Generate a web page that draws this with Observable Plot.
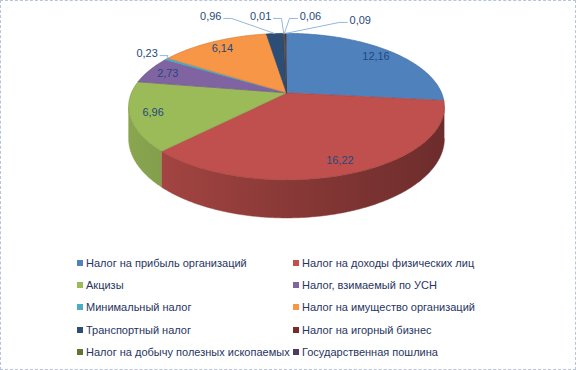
<!DOCTYPE html>
<html><head><meta charset="utf-8">
<script src="https://cdn.jsdelivr.net/npm/d3@7"></script>
<script src="https://cdn.jsdelivr.net/npm/@observablehq/plot@0.6"></script>
<style>
html,body{margin:0;padding:0;background:#fff;}
#chart{position:relative;width:576px;height:370px;box-sizing:border-box;border:1px dashed #b8c4de;overflow:hidden;font-family:"Liberation Sans",Arial,sans-serif;background:#fff;}
#chart svg{position:absolute;left:-1px;top:-1px;}
.leg{position:absolute;font-size:11px;color:#28355f;white-space:nowrap;line-height:12px;}
.leg i{display:inline-block;width:6px;height:6px;margin-right:3px;vertical-align:1px;}
</style></head><body><div id="chart"></div>
<script>
const categories = [
  "Налог на прибыль организаций",
  "Налог на доходы физических лиц",
  "Акцизы",
  "Налог, взимаемый по УСН",
  "Минимальный налог",
  "Налог на имущество организаций",
  "Транспортный налог",
  "Налог на игорный бизнес",
  "Налог на добычу полезных ископаемых",
  "Государственная пошлина"
];
const values = [12.16, 16.22, 6.96, 2.73, 0.23, 6.14, 0.96, 0.01, 0.06, 0.09];
const colors = ["#4F81BD","#C0504D","#9BBB59","#8064A2","#4BACC6","#F79646","#2C4D75","#772C2A","#5F7530","#4D3B62"];

// perspective layout (pixels)
const CX = 287, A = 155.6, CY = 92.7, B = 70.9, K = 0.188, D = 31;
const proj = (r, t) => {
  const w = 1 + K * r * Math.cos(t);
  return {x: r * Math.sin(t) / w, y: r * Math.cos(t) / w};
};
const dropU = t => (D / B) / (1 + K * Math.cos(t));
const toX = px => (px - CX) / A;
const toY = py => (CY - py) / B;

const arcs = d3.pie().sort(null).startAngle(0).endAngle(2 * Math.PI)(values);
const fmt = v => v.toFixed(2).replace(".", ",");

const tops = [], sides = [];
const sLo = Math.acos(-K), sHi = 2 * Math.PI - Math.acos(-K);
arcs.forEach((a, i) => {
  const c = colors[i];
  tops.push({id: i, x: 0, y: 0, color: c});
  const n = Math.max(2, Math.ceil((a.endAngle - a.startAngle) / 0.01));
  for (let k = 0; k <= n; k++) {
    const t = a.startAngle + (a.endAngle - a.startAngle) * k / n;
    tops.push({id: i, ...proj(1, t), color: c});
  }
  const s0 = Math.max(a.startAngle, sLo), s1 = Math.min(a.endAngle, sHi);
  if (s1 > s0) {
    const g = `url(#side${i})`;
    const m = Math.max(2, Math.ceil((s1 - s0) / 0.01));
    for (let k = 0; k <= m; k++) {
      const t = s0 + (s1 - s0) * k / m;
      sides.push({id: i, ...proj(1, t), color: g});
    }
    for (let k = m; k >= 0; k--) {
      const t = s0 + (s1 - s0) * k / m;
      const p = proj(1, t);
      sides.push({id: i, x: p.x, y: p.y - dropU(t), color: g});
    }
  }
});

// labels
const inner = [], outer = [], leaders = [];
const topRow = arcs.map((a, i) => i).filter(i => values[i] < 1 && (arcs[i].startAngle + arcs[i].endAngle) / 2 > 5.9);
arcs.forEach((a, i) => {
  const mid = (a.startAngle + a.endAngle) / 2;
  const lab = fmt(values[i]);
  if (values[i] >= 1) {
    inner.push({...proj(0.86, mid), label: lab});
  } else {
    const an = proj(1, mid);
    let l;
    const k = topRow.indexOf(i);
    if (k >= 0) {
      l = {x: toX(CX - 76 + k * 50), y: toY(16 + (k === 3 ? 4 : 0))};
    } else {
      l = proj(1.18, mid);
    }
    outer.push({...l, label: lab});
    const hw = 13 / A, run = 8 / A;
    const dir = l.x < an.x ? 1 : -1;
    const yy = l.y - 2 / B;
    leaders.push({id: i, x: l.x + dir * hw, y: yy});
    leaders.push({id: i, x: l.x + dir * (hw + run), y: yy});
    leaders.push({id: i, x: an.x, y: an.y});
  }
});

const defs = () => {
  const ns = "http://www.w3.org/2000/svg";
  const d = document.createElementNS(ns, "defs");
  colors.forEach((c, i) => {
    const g = document.createElementNS(ns, "linearGradient");
    g.setAttribute("id", `side${i}`);
    g.setAttribute("gradientUnits", "userSpaceOnUse");
    g.setAttribute("x1", CX - A); g.setAttribute("x2", CX + A);
    g.setAttribute("y1", 0); g.setAttribute("y2", 0);
    [[0, 0.35], [0.5, 0.95], [1, 1.6]].forEach(([o, dk]) => {
      const s = document.createElementNS(ns, "stop");
      s.setAttribute("offset", o);
      s.setAttribute("stop-color", d3.color(c).darker(dk).formatHex());
      g.appendChild(s);
    });
    d.appendChild(g);
  });
  return d;
};

const plot = Plot.plot({
  width: 576, height: 240,
  margin: 0,
  x: {type: "linear", domain: [-1, 1], range: [CX - A, CX + A], axis: null},
  y: {type: "linear", domain: [-1, 1], range: [CY + B, CY - B], axis: null},
  color: {type: "identity"},
  marks: [
    defs,
    Plot.line(sides, {x: "x", y: "y", z: "id", fill: "color", stroke: "color", strokeWidth: 0.5}),
    Plot.line(tops, {x: "x", y: "y", z: "id", fill: "color", stroke: d => d3.color(d.color).darker(0.5).formatHex(), strokeWidth: 0.7}),
    Plot.line(leaders, {x: "x", y: "y", z: "id", stroke: "#93b7e0", strokeWidth: 1}),
    Plot.text(inner, {x: "x", y: "y", text: "label", fill: "#1F497D", fontSize: 11, fontFamily: "Liberation Sans, Arial, sans-serif"}),
    Plot.text(outer, {x: "x", y: "y", text: "label", fill: "#1F497D", fontSize: 11, fontFamily: "Liberation Sans, Arial, sans-serif"})
  ]
});
const chart = document.getElementById("chart");
chart.appendChild(plot);

categories.forEach((c, i) => {
  const col = i % 2, row = Math.floor(i / 2);
  const d = document.createElement("div");
  d.className = "leg";
  d.style.left = (col === 0 ? 76 : 292) + "px";
  d.style.top = (256 + row * 22.2) + "px";
  d.innerHTML = `<i style="background:${colors[i]}"></i>${c}`;
  chart.appendChild(d);
});
</script></body></html>
